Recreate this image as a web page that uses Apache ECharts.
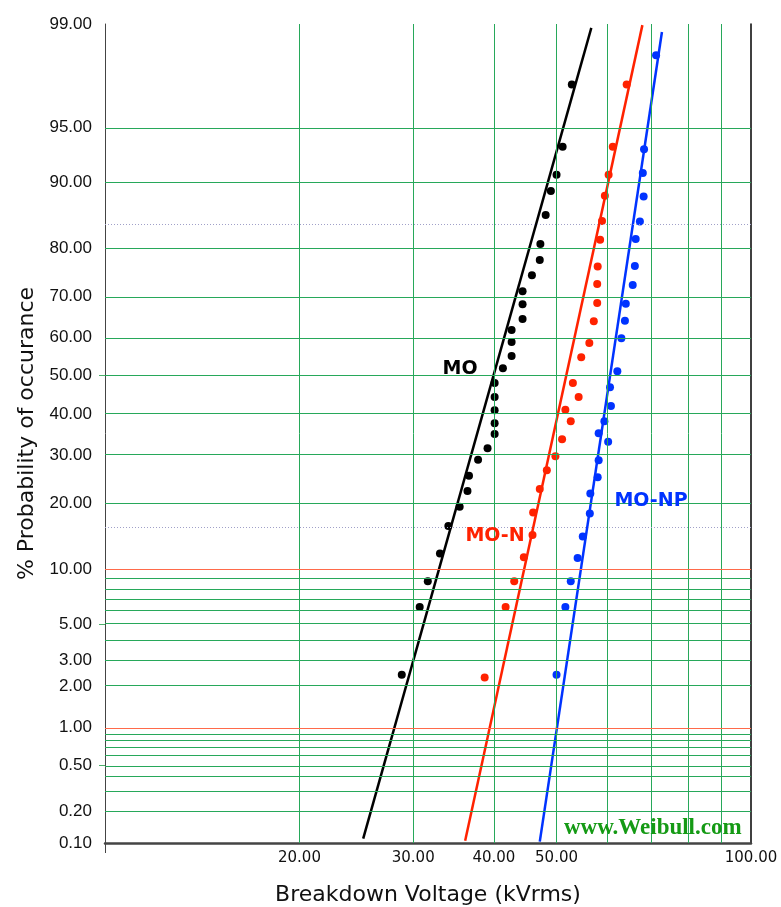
<!DOCTYPE html>
<html>
<head>
<meta charset="utf-8">
<title>Breakdown Voltage - probability plot</title>
<script src="https://cdn.jsdelivr.net/npm/echarts@6/dist/echarts.min.js"></script>
<style>
  html, body { margin: 0; padding: 0; background: #fff; }
  #chart { width: 781px; height: 907px; }
</style>
</head>
<body>
<div id="chart"></div>
<script>
// breakdown voltage (kVrms) / plotting position (%)
var moVolt = [28.8, 30.7, 31.6, 33.0, 34.0, 35.4, 36.4, 36.6, 37.8, 39.1, 40.1, 40.1, 40.1, 40.1, 40.1,
  41.3, 42.6, 42.6, 42.6, 44.3, 44.3, 44.3, 45.8, 47.1, 47.2, 48.1, 49.0, 50.0, 51.1, 52.8]
var moPct = [2.4, 6.3, 8.7, 12.0, 16.0, 19.3, 22.3, 25.4, 28.9, 31.6, 35.0, 37.7, 41.0, 44.4, 48.1,
  52.0, 55.2, 58.8, 61.9, 64.6, 68.2, 71.2, 74.7, 77.8, 80.8, 85.6, 88.9, 90.8, 93.5, 97.3]

var monVolt = [38.7, 41.7, 43.0, 44.5, 45.9, 46.0, 47.1, 48.3, 49.8, 51.0, 52.6, 51.6, 54.1,
  53.0, 54.6, 56.2, 57.1, 57.8, 57.8, 57.9, 58.4, 58.8, 59.4, 60.2, 61.1, 64.2]
var monPct = [2.3, 6.3, 8.7, 11.5, 14.6, 18.3, 22.7, 26.6, 29.7, 33.7, 38.2, 41.1, 44.4,
  48.1, 54.9, 58.6, 64.1, 68.5, 72.8, 76.5, 81.6, 84.7, 88.3, 90.8, 93.5, 97.3]

var monpVolt = [50.0, 51.6, 52.6, 53.9, 54.9, 56.3, 56.4, 57.9, 58.1, 60.1, 58.1, 59.3, 60.7,
  60.5, 62.1, 63.0, 63.8, 64.0, 65.6, 66.1, 66.3, 67.3, 68.2, 68.0, 68.3, 71.3]
var monpPct = [2.4, 6.3, 8.7, 11.4, 14.4, 18.1, 21.8, 25.1, 28.8, 33.1, 35.2, 38.2, 42.1,
  47.0, 51.2, 59.8, 64.2, 68.3, 72.6, 76.6, 81.7, 84.6, 88.2, 91.0, 93.3, 98.3]

// fitted lines, end points
var moFitVolt = [25.1, 56.6]
var moFitPct = [0.11, 98.93]
var monFitVolt = [36.1, 67.9]
var monFitPct = [0.105, 98.98]
var monpFitVolt = [47.1, 72.8]
var monpFitPct = [0.103, 98.85]

var yTicks = [0.1, 0.2, 0.5, 1, 2, 3, 5, 10, 20, 30, 40, 50, 60, 70, 80, 90, 95, 99]
var xTicks = [20, 30, 40, 50, 100]
var yGridGreen = [0.2, 0.3, 0.4, 0.5, 0.6, 0.7, 0.8, 0.9, 2, 3, 4, 5, 6, 7, 8, 9,
  20, 30, 40, 50, 60, 70, 80, 90, 95, 99]
var yGridRed = [1, 10]
var ySigma = [15.87, 84.13]
var xGrid = [20, 30, 40, 50, 60, 70, 80, 90]

// inverse normal cdf (Acklam), input in percent
function probit(pct) {
  var p = pct / 100
  var a = [-3.969683028665376e+01, 2.209460984245205e+02, -2.759285104469687e+02, 1.383577518672690e+02, -3.066479806614716e+01, 2.506628277459239e+00]
  var b = [-5.447609879822406e+01, 1.615858368580409e+02, -1.556989798598866e+02, 6.680131188771972e+01, -1.328068155288572e+01]
  var c = [-7.784894002430293e-03, -3.223964580411365e-01, -2.400758277161838e+00, -2.549732539343734e+00, 4.374664141464968e+00, 2.938163982698783e+00]
  var d = [7.784695709041462e-03, 3.224671290700398e-01, 2.445134137142996e+00, 3.754408661907416e+00]
  var q, r
  if (p < 0.02425) {
    q = Math.sqrt(-2 * Math.log(p))
    return (((((c[0] * q + c[1]) * q + c[2]) * q + c[3]) * q + c[4]) * q + c[5]) / ((((d[0] * q + d[1]) * q + d[2]) * q + d[3]) * q + 1)
  }
  if (p > 1 - 0.02425) {
    q = Math.sqrt(-2 * Math.log(1 - p))
    return -(((((c[0] * q + c[1]) * q + c[2]) * q + c[3]) * q + c[4]) * q + c[5]) / ((((d[0] * q + d[1]) * q + d[2]) * q + d[3]) * q + 1)
  }
  q = p - 0.5
  r = q * q
  return (((((a[0] * r + a[1]) * r + a[2]) * r + a[3]) * r + a[4]) * r + a[5]) * q / (((((b[0] * r + b[1]) * r + b[2]) * r + b[3]) * r + b[4]) * r + 1)
}

function pairs(volt, pct) {
  return volt.map(function (v, i) { return [v, probit(pct[i])] })
}

function hLines(list, color, type) {
  return list.map(function (p) {
    return { yAxis: probit(p), lineStyle: { color: color, width: 1, type: type || 'solid', opacity: 1 } }
  })
}

var GREEN = '#27a85a'
var chart = echarts.init(document.getElementById('chart'))

chart.setOption({
  animation: false,
  backgroundColor: '#fff',
  grid: { left: 105, right: 30, top: 24, bottom: 64, containLabel: false, outerBoundsMode: 'none' },
  xAxis: {
    type: 'log',
    logBase: 10,
    min: 10,
    max: 100,
    name: 'Breakdown Voltage (kVrms)',
    nameLocation: 'middle',
    nameGap: 41,
    nameTextStyle: { fontFamily: 'DejaVu Sans', fontSize: 22, color: '#111' },
    axisLine: { onZero: false, lineStyle: { color: '#444', width: 2.5 } },
    axisTick: { show: true, customValues: [10], length: 10, lineStyle: { color: '#444' } },
    splitLine: { show: false },
    minorSplitLine: { show: false },
    axisLabel: {
      customValues: xTicks,
      margin: 8,
      fontFamily: 'DejaVu Sans',
      fontSize: 15,
      color: '#111',
      formatter: function (v) { return Number(v).toFixed(2) }
    }
  },
  yAxis: [{
    type: 'value',
    min: probit(0.1),
    max: probit(99),
    name: '% Probability of occurance',
    nameLocation: 'middle',
    nameRotate: 90,
    nameGap: 66,
    nameTextStyle: { fontFamily: 'DejaVu Sans', fontSize: 22, color: '#111' },
    axisLine: { show: true, onZero: false, lineStyle: { color: '#444', width: 1 } },
    axisTick: {
      show: true,
      customValues: [0.5, 5, 50].map(probit),
      length: 6,
      lineStyle: { color: '#4caf6a' }
    },
    splitLine: { show: false },
    axisLabel: {
      customValues: yTicks.map(probit),
      margin: 13,
      fontFamily: 'Liberation Sans',
      fontSize: 17,
      color: '#111',
      formatter: function (v) {
        for (var i = 0; i < yTicks.length; i++) {
          if (Math.abs(probit(yTicks[i]) - v) < 1e-6) return yTicks[i].toFixed(2)
        }
        return ''
      }
    }
  }, {
    type: 'value',
    position: 'right',
    min: probit(0.1),
    max: probit(99),
    axisLine: { show: true, onZero: false, lineStyle: { color: '#000', width: 1.5 } },
    axisTick: { show: false },
    axisLabel: { show: false },
    splitLine: { show: false }
  }],
  series: [
    {
      name: 'grid',
      type: 'line',
      data: [],
      silent: true,
      z: 1,
      markLine: {
        silent: true,
        symbol: 'none',
        label: { show: false },
        emphasis: { disabled: true },
        data: []
          .concat(xGrid.map(function (v) { return { xAxis: v, lineStyle: { color: GREEN, width: 1, type: 'solid', opacity: 1 } } }))
          .concat(hLines(yGridGreen, GREEN))
          .concat(hLines(yGridRed, '#ff6a4a'))
          .concat(hLines(ySigma, '#a0a0c8', [1, 2]))
      }
    },
    {
      name: 'MO fit', type: 'line', data: pairs(moFitVolt, moFitPct), showSymbol: false, z: 3,
      lineStyle: { color: '#000', width: 2.5 }
    },
    {
      name: 'MO-N fit', type: 'line', data: pairs(monFitVolt, monFitPct), showSymbol: false, z: 3,
      lineStyle: { color: '#ff2200', width: 2.5 }
    },
    {
      name: 'MO-NP fit', type: 'line', data: pairs(monpFitVolt, monpFitPct), showSymbol: false, z: 3,
      lineStyle: { color: '#0033ff', width: 2.5 }
    },
    {
      name: 'MO', type: 'scatter', data: pairs(moVolt, moPct), symbolSize: 8, z: 4,
      itemStyle: { color: '#000', opacity: 1 }
    },
    {
      name: 'MO-N', type: 'scatter', data: pairs(monVolt, monPct), symbolSize: 8, z: 4,
      itemStyle: { color: '#ff2200', opacity: 1 }
    },
    {
      name: 'MO-NP', type: 'scatter', data: pairs(monpVolt, monpPct), symbolSize: 8, z: 4,
      itemStyle: { color: '#0033ff', opacity: 1 }
    }
  ],
  graphic: [
    {
      type: 'text', x: 460, y: 369, z: 10,
      style: { text: 'MO', fill: '#000', font: 'bold 19px "DejaVu Sans"', textAlign: 'center', textVerticalAlign: 'middle' }
    },
    {
      type: 'text', x: 495, y: 536, z: 10,
      style: { text: 'MO-N', fill: '#ff2200', font: 'bold 19px "DejaVu Sans"', textAlign: 'center', textVerticalAlign: 'middle' }
    },
    {
      type: 'text', x: 651, y: 501, z: 10,
      style: { text: 'MO-NP', fill: '#0033ff', font: 'bold 19px "DejaVu Sans"', textAlign: 'center', textVerticalAlign: 'middle' }
    },
    {
      type: 'text', x: 564, y: 840, z: 10,
      style: { text: 'www.Weibull.com', fill: '#159a15', font: 'bold 23px "Liberation Serif"', textAlign: 'left', textVerticalAlign: 'bottom' }
    }
  ]
})
</script>
</body>
</html>
